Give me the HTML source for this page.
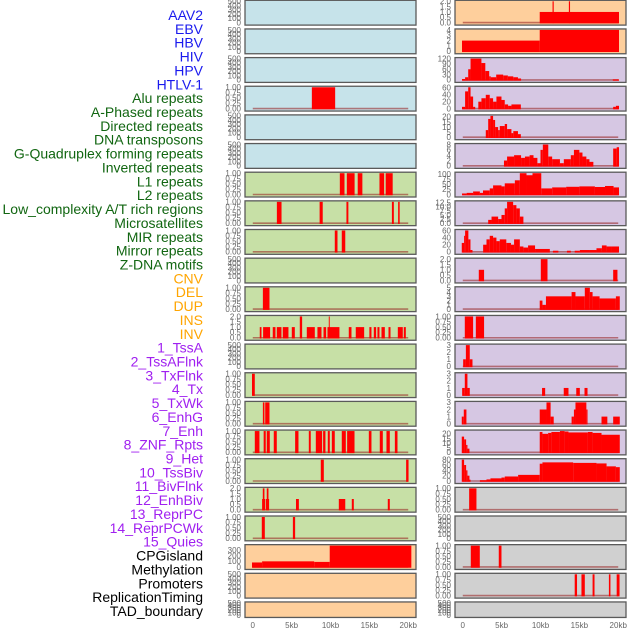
<!DOCTYPE html>
<html><head><meta charset="utf-8"><style>
html,body{margin:0;padding:0;background:#fff;}
svg{display:block;font-family:"Liberation Sans",sans-serif;}
</style></head><body>
<svg id="chart" width="630" height="630" viewBox="0 0 630 630" xmlns="http://www.w3.org/2000/svg"></svg>
<script>
const trackLabels = ["AAV2","EBV","HBV","HIV","HPV","HTLV-1","Alu repeats","A-Phased repeats","Directed repeats","DNA transposons","G-Quadruplex forming repeats","Inverted repeats","L1 repeats","L2 repeats","Low_complexity A/T rich regions","Microsatellites","MIR repeats","Mirror repeats","Z-DNA motifs","CNV","DEL","DUP","INS","INV","1_TssA","2_TssAFlnk","3_TxFlnk","4_Tx","5_TxWk","6_EnhG","7_Enh","8_ZNF_Rpts","9_Het","10_TssBiv","11_BivFlnk","12_EnhBiv","13_ReprPC","14_ReprPCWk","15_Quies","CPGisland","Methylation","Promoters","ReplicationTiming","TAD_boundary"];
const labelColors = ["#1a1aee","#1a1aee","#1a1aee","#1a1aee","#1a1aee","#1a1aee","#116611","#116611","#116611","#116611","#116611","#116611","#116611","#116611","#116611","#116611","#116611","#116611","#116611","#ffa500","#ffa500","#ffa500","#ffa500","#ffa500","#a020f0","#a020f0","#a020f0","#a020f0","#a020f0","#a020f0","#a020f0","#a020f0","#a020f0","#a020f0","#a020f0","#a020f0","#a020f0","#a020f0","#a020f0","#000","#000","#000","#000","#000"];
const xTicks = [0,5,10,15,20];
const xTickLabels = ["0","5kb","10kb","15kb","20kb"];
const leftYMax = [500,500,500,1,500,500,1,1,1,500,1,2,500,1,1,1,1,2,1,380,500,500];
const rightYMax = [2,4,120,62,21,8,105,13,60,2,5,1,3,3,3,23,80,1,500,1,1,500];
const leftTickSet = ["T500","T500","T500","T1","T500","T500","T1","T1","T1","T500","T1","T2","T500","T1","T1","T1","T1","T2","T1","T300","T500","T500"];
const rightTickSet = ["T2","T4","T120","T60","T20","T8","T100","T12","T60","T2","T5","T1","T3","T3","T3","T20","T80","T1","T500","T1","T1","T500"];
const tickSets = {
 T500:[[0,100,200,300,400,500],0], T1:[[0,0.25,0.5,0.75,1],2], T2:[[0,0.5,1,1.5,2],1],
 T300:[[0,100,200,300],0], T4:[[0,1,2,3,4],0], T120:[[0,30,60,90,120],0], T60:[[0,20,40,60],0],
 T20:[[0,5,10,15,20],0], T8:[[0,2,4,6,8],0], T100:[[0,25,50,75,100],0], T12:[[0,2.5,5,7.5,10,12.5],1],
 T5:[[0,1,2,3,4,5],0], T3:[[0,1,2,3],0], T80:[[0,20,40,60,80],0]
};
const leftBg = ["#c6e3ea","#c6e3ea","#c6e3ea","#c6e3ea","#c6e3ea","#c6e3ea","#c7e0a6","#c7e0a6","#c7e0a6","#c7e0a6","#c7e0a6","#c7e0a6","#c7e0a6","#c7e0a6","#c7e0a6","#c7e0a6","#c7e0a6","#c7e0a6","#c7e0a6","#fecf9c","#fecf9c","#fecf9c"];
const rightBg = ["#fecf9c","#fecf9c","#d6c7e3","#d6c7e3","#d6c7e3","#d6c7e3","#d6c7e3","#d6c7e3","#d6c7e3","#d6c7e3","#d6c7e3","#d6c7e3","#d6c7e3","#d6c7e3","#d6c7e3","#d6c7e3","#d6c7e3","#d0d0d0","#d0d0d0","#d0d0d0","#d0d0d0","#d0d0d0"];
// segments: [startKb, endKb, value]
const leftSegs = [
 [],[],[],
 [[7.6,10.6,1]],
 [],[],
 [[11.2,11.8,1],[12.1,13.1,1],[13.5,14.1,1],[16.3,16.9,1],[17.1,18.0,1]],
 [[3.1,3.7,1],[8.6,9.0,1],[12.05,12.3,1],[17.9,18.15,1],[18.7,18.9,1]],
 [[10.55,10.9,1],[11.45,11.9,1]],
 [],
 [[1.3,2.15,1]],
 [[0.9,1.12,1],[1.33,2.23,1],[2.57,2.92,1],[3.09,3.69,1],[3.86,4.59,1],[5.02,5.41,1],[6.05,6.35,2],[6.95,7.98,1],[8.32,8.84,1],[9.1,9.44,1],[9.61,11.15,1],[9.78,9.9,2],[12.35,12.7,1],[13.25,14.33,1],[15.0,15.27,1],[15.57,15.87,1],[16.04,16.3,1],[16.56,16.99,1],[17.46,17.72,1],[18.66,19.3,1],[19.43,19.69,1]],
 [],
 [[-0.1,0.26,1]],
 [[1.3,1.5,1],[1.6,2.15,1]],
 [[0.26,0.86,1],[1.4,1.67,1],[1.8,2.19,1],[2.7,3.09,1],[5.45,5.88,1],[7.21,7.46,1],[8.11,8.92,1],[9.05,9.35,1],[9.65,9.91,1],[10.17,10.55,1],[11.45,11.97,1],[12.14,13.09,1],[14.93,15.27,1],[16.34,16.73,1],[17.2,17.63,1],[18.28,18.62,1]],
 [[8.75,9.14,1],[19.73,20.04,1]],
 [[1.2,1.58,1],[1.29,1.5,2],[1.67,2.1,1],[1.8,2.02,2],[5.56,5.93,1],[11.07,11.9,1],[12.74,13.0,1],[17.37,17.63,1]],
 [[1.16,1.55,1],[5.16,5.45,1]],
 [[-0.1,1.2,80],[1.2,7.9,100],[7.9,9.9,90],[9.9,20.4,380]],
 [],[]
];
const rightSegs = [
 [[9.9,20.1,1],[11.55,11.7,2],[13.65,13.8,2]],
 [[-0.1,9.9,2],[9.9,20.1,4]],
 [[-0.1,0.3,5],[0.3,0.7,15],[0.7,1.0,60],[1.0,2.4,120],[2.4,2.9,95],[2.9,3.4,50],[3.4,3.6,20],[3.6,4.3,15],[4.3,5.2,30],[5.2,5.8,25],[5.8,6.5,20],[6.5,7.1,15],[7.1,7.5,8],[19.3,20.1,3]],
 [[-0.1,0.3,5],[0.3,0.7,50],[0.7,1.0,62],[1.0,1.33,35],[1.33,1.6,5],[2.0,2.4,20],[2.4,2.96,30],[2.96,3.47,40],[3.47,3.9,30],[3.9,4.33,20],[4.33,4.98,35],[4.98,5.4,25],[5.4,5.83,12],[5.83,6.26,8],[6.26,7.47,12],[19.35,19.7,5],[19.7,20.1,8]],
 [[2.96,3.27,7],[3.27,3.56,18],[3.56,3.9,21],[3.9,4.16,17],[4.16,4.55,10],[4.55,4.76,7],[4.76,5.4,11],[5.4,5.7,13],[5.7,6.26,8],[6.26,6.5,4],[6.5,7.1,6],[7.1,7.47,3]],
 [[5.3,5.7,2],[5.7,6.6,3.5],[6.6,7.5,4],[7.5,8.0,3],[8.0,8.6,3.5],[8.6,9.1,4],[9.1,9.6,3],[9.6,10.0,1],[10.0,10.3,6],[10.3,11.0,8],[11.0,11.5,3.5],[11.5,12.5,2.5],[12.5,13.0,1],[13.0,13.9,2.5],[13.9,14.3,4],[14.3,15.0,6],[15.0,15.4,5],[15.4,15.9,3.5],[15.9,16.3,2.5],[16.3,16.8,1.5],[19.35,19.8,6.5],[19.8,20.1,7]],
 [[-0.1,0.5,5],[0.5,1.33,8],[1.33,2.2,15],[2.2,2.6,8],[2.6,3.47,20],[3.47,3.9,30],[3.9,4.98,45],[4.98,5.4,40],[5.4,6.7,55],[6.7,7.34,70],[7.34,8.2,105],[8.2,8.97,95],[8.97,10.1,105],[10.1,11.5,30],[11.5,13.3,35],[13.3,15.0,38],[15.0,17.0,40],[17.0,18.3,37],[18.3,19.4,42],[19.4,20.1,35]],
 [[3.27,3.7,2],[3.7,4.55,4],[4.55,4.98,2.5],[4.98,5.4,5],[5.4,5.7,9],[5.7,6.48,13],[6.48,6.9,11],[6.9,7.34,9],[7.34,7.8,4]],
 [[-0.13,0.17,25],[0.17,0.3,45],[0.3,0.72,60],[0.72,0.99,35],[0.99,1.25,5],[2.62,3.05,20],[3.05,3.47,35],[3.47,3.9,45],[3.9,4.33,40],[4.33,4.76,30],[4.76,5.6,35],[5.6,6.2,25],[6.2,6.6,20],[6.6,7.34,35],[7.34,7.8,15],[7.8,8.4,12],[8.4,9.3,18],[9.3,11.2,8],[11.6,12.3,3],[13.4,13.9,3],[14.4,15.06,3],[15.06,16.3,5],[16.3,17.2,5],[17.2,17.9,10],[17.9,18.5,18],[18.5,19.13,15],[19.13,20.1,15]],
 [[2.06,2.74,1],[10.04,10.9,2],[19.35,19.9,1]],
 [[9.9,10.25,2],[10.25,10.7,1],[10.7,14.0,3],[14.0,14.5,4],[14.5,15.7,3],[15.7,16.35,5],[16.35,16.7,4],[16.7,17.6,3],[17.6,19.7,2.5],[19.7,20.2,3]],
 [[0.26,1.33,1],[1.68,2.74,1]],
 [[0.05,0.4,1],[0.4,0.9,3],[0.9,1.25,1]],
 [[-0.08,0.26,1],[0.26,0.6,3],[0.6,0.9,1],[10.2,10.6,1],[12.99,13.6,1],[14.6,15.06,1],[15.66,16.05,1]],
 [[-0.13,0.13,1],[0.13,0.47,2],[9.9,10.77,2],[10.77,11.3,3],[11.3,11.7,1],[14.0,14.3,1],[14.3,14.5,2],[14.5,15.9,3],[15.9,16.05,2],[17.85,18.6,1],[19.35,20.2,1]],
 [[-0.13,0.17,17],[0.17,0.43,14],[0.43,0.6,8],[0.6,0.86,4],[9.9,10.25,22],[10.25,10.98,20],[10.98,11.4,21],[11.4,12.5,22],[12.5,13.1,23],[13.1,13.6,22.5],[13.6,16.1,21.5],[16.1,16.7,22],[16.7,17.85,21],[17.85,20.2,19]],
 [[-0.13,0.17,80],[0.17,0.43,60],[0.43,0.6,40],[0.6,0.86,20],[0.86,1.0,5],[2.2,3.05,3],[3.05,3.56,6],[3.56,4.98,10],[4.98,5.4,13],[5.4,7.12,17],[7.12,9.9,23],[9.9,10.25,65],[10.25,14.2,70],[14.2,17.2,68],[17.2,18.5,66],[18.5,19.7,55],[19.7,20.2,52]],
 [[0.82,1.76,1]],
 [],
 [[1.03,2.19,1],[4.63,4.98,1]],
 [[14.4,14.7,1],[15.27,15.7,1],[16.7,16.95,1],[18.8,19.0,1],[19.8,20.17,1]],
 []
];

const NS = "http://www.w3.org/2000/svg";
const svg = document.getElementById("chart");
function mk(tag, attrs, parent){ const e=document.createElementNS(NS,tag); for(const k in attrs) e.setAttribute(k,attrs[k]); (parent||svg).appendChild(e); return e; }
const cols = [{x0:245, segs:leftSegs, ymax:leftYMax, ticks:leftTickSet, bg:leftBg, name:"left"},
              {x0:455, segs:rightSegs, ymax:rightYMax, ticks:rightTickSet, bg:rightBg, name:"right"}];
const PW = 171;
function xScale(x0, kb){ return x0 + (kb + 1) * PW / 22; }
function rowTop(r){ return 0.3 + r * 28.65; }
function rowH(r){ return r === 21 ? 15.5 : 24.8; }

trackLabels.forEach((t,i)=>{
  const e = mk("text",{x:203, y:15 + i*13.86 + 5, "text-anchor":"end", "font-size":14, fill:labelColors[i]});
  e.textContent = t;
  
  
});

cols.forEach(c=>{
  for(let r=0;r<22;r++){
    const top=rowTop(r), h=rowH(r);
    const g = mk("g",{});
    
    
    mk("rect",{x:c.x0, y:top, width:PW, height:h, fill:c.bg[r]}, g);
    const ymax=c.ymax[r];
    const yBot = top + h - 2.5, yTop = top + 1;
    const ys = v => yBot - (v/ymax)*(yBot-yTop);
    const segs=c.segs[r];
    if(segs.length){
      const bl = mk("line",{x1:xScale(c.x0,0), x2:xScale(c.x0,20), y1:ys(0), y2:ys(0), stroke:"rgba(150,30,30,0.55)", "stroke-width":1.6}, g);
      
      
    }
    segs.forEach(s=>{
      const v=Math.min(s[2],ymax*1.06);
      const y=Math.max(top, ys(v));
      const b = mk("rect",{x:xScale(c.x0,s[0]), y:y, width:Math.max(0.8,xScale(c.x0,s[1])-xScale(c.x0,s[0])), height:ys(0)-y+0.8, fill:"#ff0000"}, g);
      
      
    });
    const ts = tickSets[c.ticks[r]];
    ts[0].forEach(v=>{
      const e = mk("text",{x:c.x0-4, y:ys(v)+2.8, "text-anchor":"end", "font-size":8, fill:"#666"}, g);
      e.textContent = v.toFixed(ts[1]);
      
      
    });
    mk("rect",{x:c.x0, y:top, width:PW, height:h, fill:"none", stroke:"#5a5a5a", "stroke-width":1.3}, g);
  }
  xTicks.forEach((k,i)=>{
    const e = mk("text",{x:xScale(c.x0,k), y:628, "text-anchor":"middle", "font-size":8, fill:"#666"});
    e.textContent = xTickLabels[i];
    
    
  });
});
</script>
</body></html>
